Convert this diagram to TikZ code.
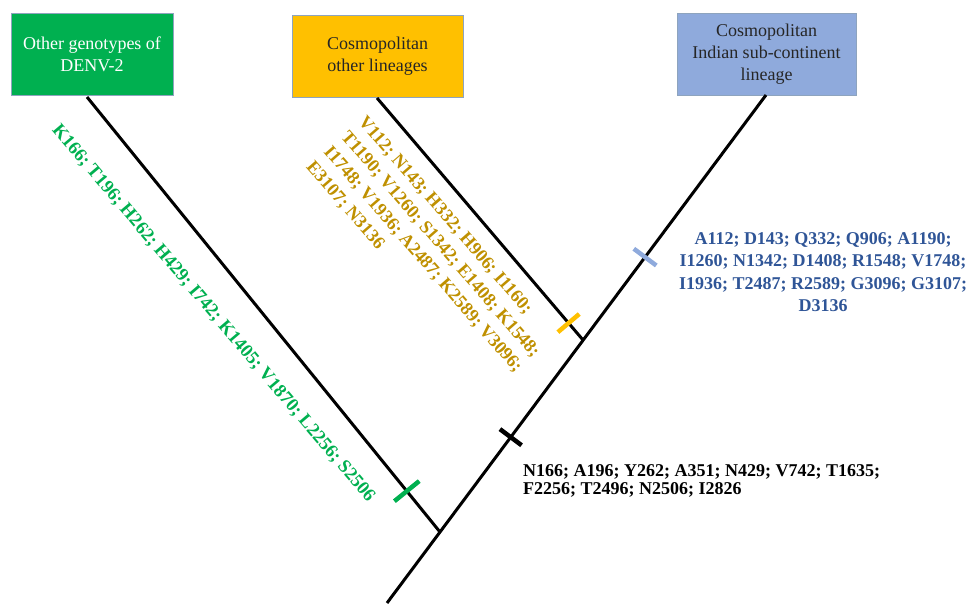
\documentclass[tikz,border=0pt]{standalone}
\usepackage{fontspec}
\setmainfont{Liberation Serif}
\usetikzlibrary{calc}
\definecolor{boxgreen}{HTML}{00B050}
\definecolor{boxorange}{HTML}{FFC000}
\definecolor{boxblue}{HTML}{8FAADC}
\definecolor{boxedge}{HTML}{8EA4BE}
\definecolor{txtgreen}{HTML}{00B050}
\definecolor{txtorange}{HTML}{BF9000}
\definecolor{txtblue}{HTML}{2F5597}
\tikzset{
  clade/.style={draw=boxedge, line width=0.6pt, minimum height=82pt, align=center, inner sep=2pt, font=\fontsize{18}{21.8}\selectfont},
  branch/.style={line width=3pt, black},
  tickmark/.style={line width=4.5pt},
  muts/.style={font=\bfseries\fontsize{18}{22.5}\selectfont, inner sep=0pt}
}
\begin{document}
\begin{tikzpicture}[x=1pt,y=-1pt]
\useasboundingbox (0,0) rectangle (974,603);
% boxes
\node[clade, fill=boxgreen, text=white, minimum width=162pt] (g) at (92,54) {Other genotypes of\\DENV-2};
\node[clade, fill=boxorange, text=black!85, minimum width=171pt] (o) at (377.5,56) {Cosmopolitan\\other lineages};
\node[clade, fill=boxblue, text=black!85, minimum width=179pt] (b) at (766.5,54) {Cosmopolitan\\Indian sub-continent\\lineage};
% junctions
\coordinate (gtop) at (87,97);
\coordinate (otop) at (377,98);
\coordinate (btop) at (766,95);
\coordinate (j1) at (440,532);
\coordinate (j2) at (583,340);
\coordinate (root) at (387,603);
% branches
\draw[branch] (gtop) -- (j1);
\draw[branch] (otop) -- (j2);
\draw[branch] (root) -- (j1) -- (btop);
% tick positions
\path (gtop) -- (j1) coordinate[pos=0.906] (tg);
\path (otop) -- (j2) coordinate[pos=0.93] (to);
\path (j1) -- (btop) coordinate[pos=0.217] (tk);
\path (j1) -- (btop) coordinate[pos=0.629] (tb);
\draw[tickmark, boxgreen] ($(tg)!16pt!90:(j1)$) -- ($(tg)!16pt!-90:(j1)$);
\draw[tickmark, boxorange] ($(to)!14pt!90:(j2)$) -- ($(to)!14pt!-90:(j2)$);
\draw[tickmark, black] ($(tk)!13.5pt!90:(btop)$) -- ($(tk)!13.5pt!-90:(btop)$);
\draw[tickmark, boxblue] ($(tb)!14pt!90:(btop)$) -- ($(tb)!14pt!-90:(btop)$);
% mutation labels
\node[muts, text=txtgreen, rotate=-49.7, anchor=north west,
  font=\bfseries\fontsize{18.6}{22.5}\selectfont] (mg) at (61,122)
  {K166; T196; H262; H429; I742; K1405; V1870; L2256; S2506};
\node[muts, text=txtorange, rotate=-49, anchor=north west, align=left,
  font=\bfseries\fontsize{18.3}{23}\selectfont] (mo) at (367,114)
  {V112; N143; H332; H906; I1160;\\T1190; V1260; S1342; E1408; K1548;\\I1748; V1936; A2487; K2589; V3096;\\E3107; N3136};
\node[muts, text=txtblue, align=center] (mb) at (823,272)
  {A112; D143; Q332; Q906; A1190;\\I1260; N1342; D1408; R1548; V1748;\\I1936; T2487; R2589; G3096; G3107;\\D3136};
\node[muts, text=black, align=left, anchor=north west,
  font=\bfseries\fontsize{18}{18.5}\selectfont] (mk) at (523,464)
  {N166; A196; Y262; A351; N429; V742; T1635;\\F2256; T2496; N2506; I2826};
\end{tikzpicture}
\end{document}
